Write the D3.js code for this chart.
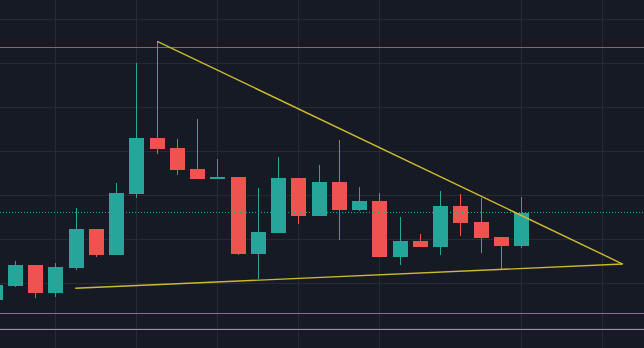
<!DOCTYPE html>
<html>
<head>
<meta charset="utf-8">
<script src="https://cdn.jsdelivr.net/npm/d3@7"></script>
<style>
  html, body { margin: 0; padding: 0; background: #161a25; overflow: hidden; }
  svg { display: block; }
</style>
</head>
<body>
<svg id="chart" width="644" height="348"></svg>
<script>
// OHLC series, one entry per bar (bar index = position in the arrays)
const opens  = [106.35, 109.52, 114.29, 107.94, 113.67, 122.45, 116.62, 130.45, 143.08, 140.82,
                136.05, 133.79, 134.24, 116.85, 121.61, 134.01, 125.46, 133.11, 126.83, 128.80,
                116.17, 119.73, 118.37, 127.66, 124.04, 120.63, 118.59];
const highs  = [109.75, 115.19, 114.29, 114.74, 127.21, 122.45, 132.88, 160.16, 165.01, 142.86,
                147.39, 138.32, 134.24, 131.75, 138.78, 134.01, 136.96, 142.63, 131.97, 130.61,
                125.17, 121.32, 131.07, 130.39, 129.48, 120.63, 129.71];
const lows   = [106.35, 109.30, 106.80, 107.03, 113.22, 116.17, 116.62, 129.55, 139.52, 134.69,
                133.79, 133.79, 116.55, 111.04, 121.61, 123.65, 125.46, 119.95, 126.60, 116.17,
                114.35, 118.44, 116.55, 120.86, 117.01, 113.38, 118.14];
const closes = [109.75, 114.29, 107.94, 113.83, 122.45, 116.62, 130.61, 143.08, 140.66, 135.83,
                133.79, 134.24, 116.85, 121.77, 134.01, 125.46, 133.11, 126.83, 128.80, 116.17,
                119.73, 118.44, 127.66, 123.81, 120.41, 118.59, 126.08];

// Price grid and time grid (bar indices)
const priceTicks = [100, 110, 120, 130, 140, 150, 160, 170];
const timeTicks  = [3, 7, 11, 15, 19, 26, 30];

// Horizontal levels
const resistanceLevel = 163.65;
const supportLevels   = [103.40, 99.55];

// Triangle trend lines: [bar index, price]
const upperTrend = [[8, 165.01], [31, 114.51]];
const lowerTrend = [[3.95, 109.00], [31, 114.51]];

const W = 644, H = 348;
const UP = "#26a69a", DOWN = "#ef5350";

const svg = d3.select("#chart");
svg.append("rect").attr("width", W).attr("height", H).attr("fill", "#161a25");

const x = d3.scaleLinear().domain([0, 31]).range([-4.74, -4.74 + 31 * 20.24]);
const y = d3.scaleLinear().domain([100, 170]).range([328, 19.3]);
const crisp = v => Math.round(v) + 0.5;

// grid
const grid = svg.append("g").attr("stroke", "#262a35").attr("stroke-width", 1);
grid.selectAll("line.h").data(priceTicks).join("line")
  .attr("class", "h")
  .attr("x1", 0).attr("x2", W)
  .attr("y1", d => crisp(y(d) - 0.5)).attr("y2", d => crisp(y(d) - 0.5));
grid.selectAll("line.v").data(timeTicks).join("line")
  .attr("class", "v")
  .attr("y1", 0).attr("y2", H)
  .attr("x1", d => crisp(x(d) - 0.5)).attr("x2", d => crisp(x(d) - 0.5));

// horizontal levels
svg.append("line")
  .attr("x1", 0).attr("x2", W)
  .attr("y1", crisp(y(resistanceLevel) - 0.5)).attr("y2", crisp(y(resistanceLevel) - 0.5))
  .attr("stroke", "#f23645").attr("stroke-width", 1);
svg.selectAll("line.support").data(supportLevels).join("line")
  .attr("class", "support")
  .attr("x1", 0).attr("x2", W)
  .attr("y1", d => crisp(y(d) - 0.5)).attr("y2", d => crisp(y(d) - 0.5))
  .attr("stroke", (d, i) => i === 0 ? "#43a047" : "#5cc05c").attr("stroke-width", 1);

// candles
const bars = opens.map((o, i) => ({ i, o, h: highs[i], l: lows[i], c: closes[i] }));
const bodyW = 15;
const g = svg.append("g");
bars.forEach(b => {
  const col = b.c >= b.o ? UP : DOWN;
  const left = Math.round(x(b.i) - bodyW / 2);
  const wx = left + 7.5;
  g.append("line")
    .attr("x1", wx).attr("x2", wx)
    .attr("y1", Math.round(y(b.h))).attr("y2", Math.round(y(b.l)))
    .attr("stroke", col).attr("stroke-width", 1);
  const top = Math.round(y(Math.max(b.o, b.c)));
  const bot = Math.round(y(Math.min(b.o, b.c)));
  g.append("rect")
    .attr("x", left).attr("width", bodyW)
    .attr("y", top).attr("height", Math.max(1, bot - top))
    .attr("fill", col);
});

// last price line (dotted, at last close)
const last = closes[closes.length - 1];
svg.append("line")
  .attr("x1", 0).attr("x2", W)
  .attr("y1", crisp(y(last) - 0.5)).attr("y2", crisp(y(last) - 0.5))
  .attr("stroke", UP).attr("stroke-width", 1)
  .attr("stroke-dasharray", "1 2");

// triangle
const trend = d3.line().x(d => x(d[0])).y(d => y(d[1]));
[upperTrend, lowerTrend].forEach(t => {
  svg.append("path")
    .attr("d", trend(t))
    .attr("fill", "none")
    .attr("stroke", "#cdb92e")
    .attr("stroke-width", 1.4);
});
</script>
</body>
</html>
